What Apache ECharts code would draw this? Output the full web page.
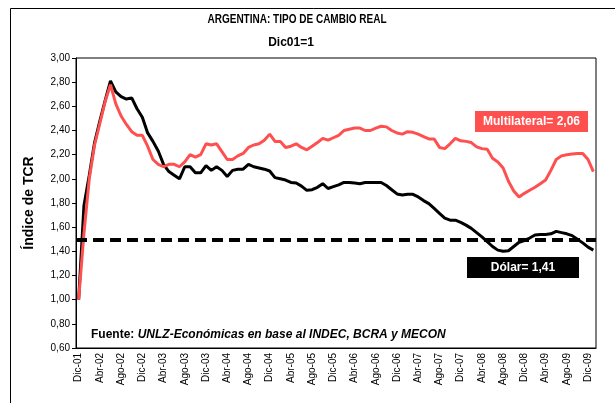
<!DOCTYPE html>
<html><head><meta charset="utf-8">
<script src="https://cdn.jsdelivr.net/npm/echarts@6/dist/echarts.min.js"></script>
<style>html,body{margin:0;padding:0;background:#fff}#c{width:615px;height:403px}</style>
</head><body><div id="c"></div>
<script>
// ---- data ----
const monthNames = ['Ene','Feb','Mar','Abr','May','Jun','Jul','Ago','Sep','Oct','Nov','Dic'];
const categories = ['Dic-01'];
for (let y = 2; y <= 10; y++) for (let m = 0; m < 12; m++) categories.push(monthNames[m] + '-' + String(y).padStart(2, '0'));
categories.length = 98; // Dic-01 .. Ene-10

const dolar = [1.00,1.78,2.03,2.30,2.48,2.65,2.81,2.72,2.68,2.66,2.67,2.58,2.51,2.38,2.31,2.23,2.12,2.06,2.03,2.00,
2.10,2.10,2.05,2.05,2.11,2.07,2.10,2.07,2.02,2.07,2.08,2.08,2.12,2.10,2.09,2.08,2.065,2.01,2.00,1.99,
1.97,1.965,1.94,1.905,1.91,1.93,1.96,1.92,1.935,1.95,1.97,1.97,1.965,1.96,1.97,1.97,1.97,1.97,1.945,1.91,
1.875,1.866,1.872,1.872,1.85,1.82,1.795,1.755,1.715,1.675,1.658,1.658,1.64,1.617,1.59,1.555,1.52,1.48,1.44,1.41,
1.40,1.405,1.44,1.475,1.49,1.51,1.535,1.54,1.54,1.545,1.565,1.555,1.545,1.53,1.50,1.47,1.435,1.41];

const multilateral = [1.00,1.55,2.00,2.28,2.46,2.64,2.78,2.62,2.52,2.45,2.39,2.36,2.36,2.27,2.16,2.12,2.10,2.12,2.12,2.10,
2.14,2.20,2.18,2.20,2.29,2.28,2.29,2.225,2.16,2.16,2.19,2.21,2.26,2.28,2.29,2.32,2.37,2.31,2.31,2.26,
2.27,2.29,2.26,2.24,2.27,2.30,2.335,2.32,2.34,2.36,2.40,2.41,2.42,2.42,2.40,2.40,2.42,2.435,2.43,2.40,
2.38,2.37,2.39,2.385,2.37,2.35,2.33,2.33,2.26,2.25,2.29,2.335,2.315,2.31,2.30,2.265,2.25,2.245,2.17,2.14,
2.09,1.98,1.90,1.85,1.88,1.905,1.93,1.96,1.99,2.07,2.16,2.19,2.20,2.205,2.21,2.21,2.16,2.06];

const refLevel = 1.5;
const yMin = 0.6, yMax = 3.0, yStep = 0.2;
const titleText = 'ARGENTINA: TIPO DE CAMBIO REAL';
const subtitleText = 'Dic01=1';
const yName = 'Índice de TCR';
const labelMulti = 'Multilateral= 2,06';
const labelDolar = 'Dólar= 1,41';
const sourceLead = 'Fuente: ';
const sourceRest = 'UNLZ-Económicas en base al INDEC, BCRA y MECON';

// ---- chart ----
const chart = echarts.init(document.getElementById('c'), null, {renderer: 'canvas'});
const F = "'Liberation Sans', Arial, sans-serif";
const RED = '#FF5050';
chart.setOption({
  animation: false,
  backgroundColor: '#fff',
  textStyle: {fontFamily: F},
  grid: {left: 76, right: 19, top: 58, bottom: 55, show: true, borderColor: '#000', borderWidth: 1, containLabel: false},
  xAxis: {
    type: 'category', data: categories, boundaryGap: true,
    axisLine: {lineStyle: {color: '#000', width: 1}},
    axisTick: {alignWithLabel: true, interval: 3, length: 4, lineStyle: {color: '#000'}},
    axisLabel: {interval: 3, rotate: 90, fontSize: 10, color: '#000', margin: 5, fontFamily: F}
  },
  yAxis: {
    type: 'value', min: yMin, max: yMax, interval: yStep,
    name: yName, nameLocation: 'middle', nameGap: 40, nameRotate: 90,
    nameTextStyle: {fontSize: 14, fontWeight: 'bold', color: '#000', fontFamily: F},
    axisLine: {show: true, lineStyle: {color: '#000', width: 1}},
    axisTick: {show: true, length: 4, lineStyle: {color: '#000'}},
    splitLine: {show: false},
    axisLabel: {fontSize: 10, color: '#000', margin: 6, fontFamily: F,
      formatter: v => v.toFixed(2).replace('.', ',')}
  },
  series: [
    {name: 'Dólar', type: 'line', data: dolar, symbol: 'none', lineStyle: {color: '#000', width: 3}, itemStyle: {color: '#000'}},
    {name: 'Multilateral', type: 'line', data: multilateral, symbol: 'none', lineStyle: {color: RED, width: 3}, itemStyle: {color: RED},
      markLine: {silent: true, symbol: ['none', 'none'], label: {show: false},
        lineStyle: {color: '#000', width: 4, type: [11, 6]}, data: [{yAxis: refLevel}]}}
  ],
  graphic: [
    {type: 'rect', shape: {x: 10.5, y: 8.5, width: 700, height: 500}, style: {fill: 'none', stroke: '#000', lineWidth: 1}, silent: true},
    {type: 'text', x: 297, y: 19, scaleX: 0.77, style: {text: titleText, fontSize: 13, fontWeight: 'bold', fontFamily: F, fill: '#000', textAlign: 'center', textVerticalAlign: 'middle'}},
    {type: 'text', x: 291, y: 43, style: {text: subtitleText, fontSize: 12, fontWeight: 'bold', fontFamily: F, fill: '#000', textAlign: 'center', textVerticalAlign: 'middle'}},
    {type: 'rect', shape: {x: 475, y: 111, width: 113, height: 21}, style: {fill: RED}},
    {type: 'text', x: 531.5, y: 121.5, style: {text: labelMulti, fontSize: 12, fontWeight: 'bold', fontFamily: F, fill: '#fff', textAlign: 'center', textVerticalAlign: 'middle'}},
    {type: 'rect', shape: {x: 467, y: 257, width: 112, height: 21}, style: {fill: '#000'}},
    {type: 'text', x: 523, y: 267.5, style: {text: labelDolar, fontSize: 12, fontWeight: 'bold', fontFamily: F, fill: '#fff', textAlign: 'center', textVerticalAlign: 'middle'}},
    {type: 'text', x: 91, y: 335, style: {text: '{a|' + sourceLead + '}{b|' + sourceRest + '}', textVerticalAlign: 'middle',
      rich: {a: {fontSize: 12, fontWeight: 'bold', fontFamily: F, fill: '#000'},
             b: {fontSize: 12, fontWeight: 'bold', fontStyle: 'italic', fontFamily: F, fill: '#000'}}}}
  ]
});
</script></body></html>
